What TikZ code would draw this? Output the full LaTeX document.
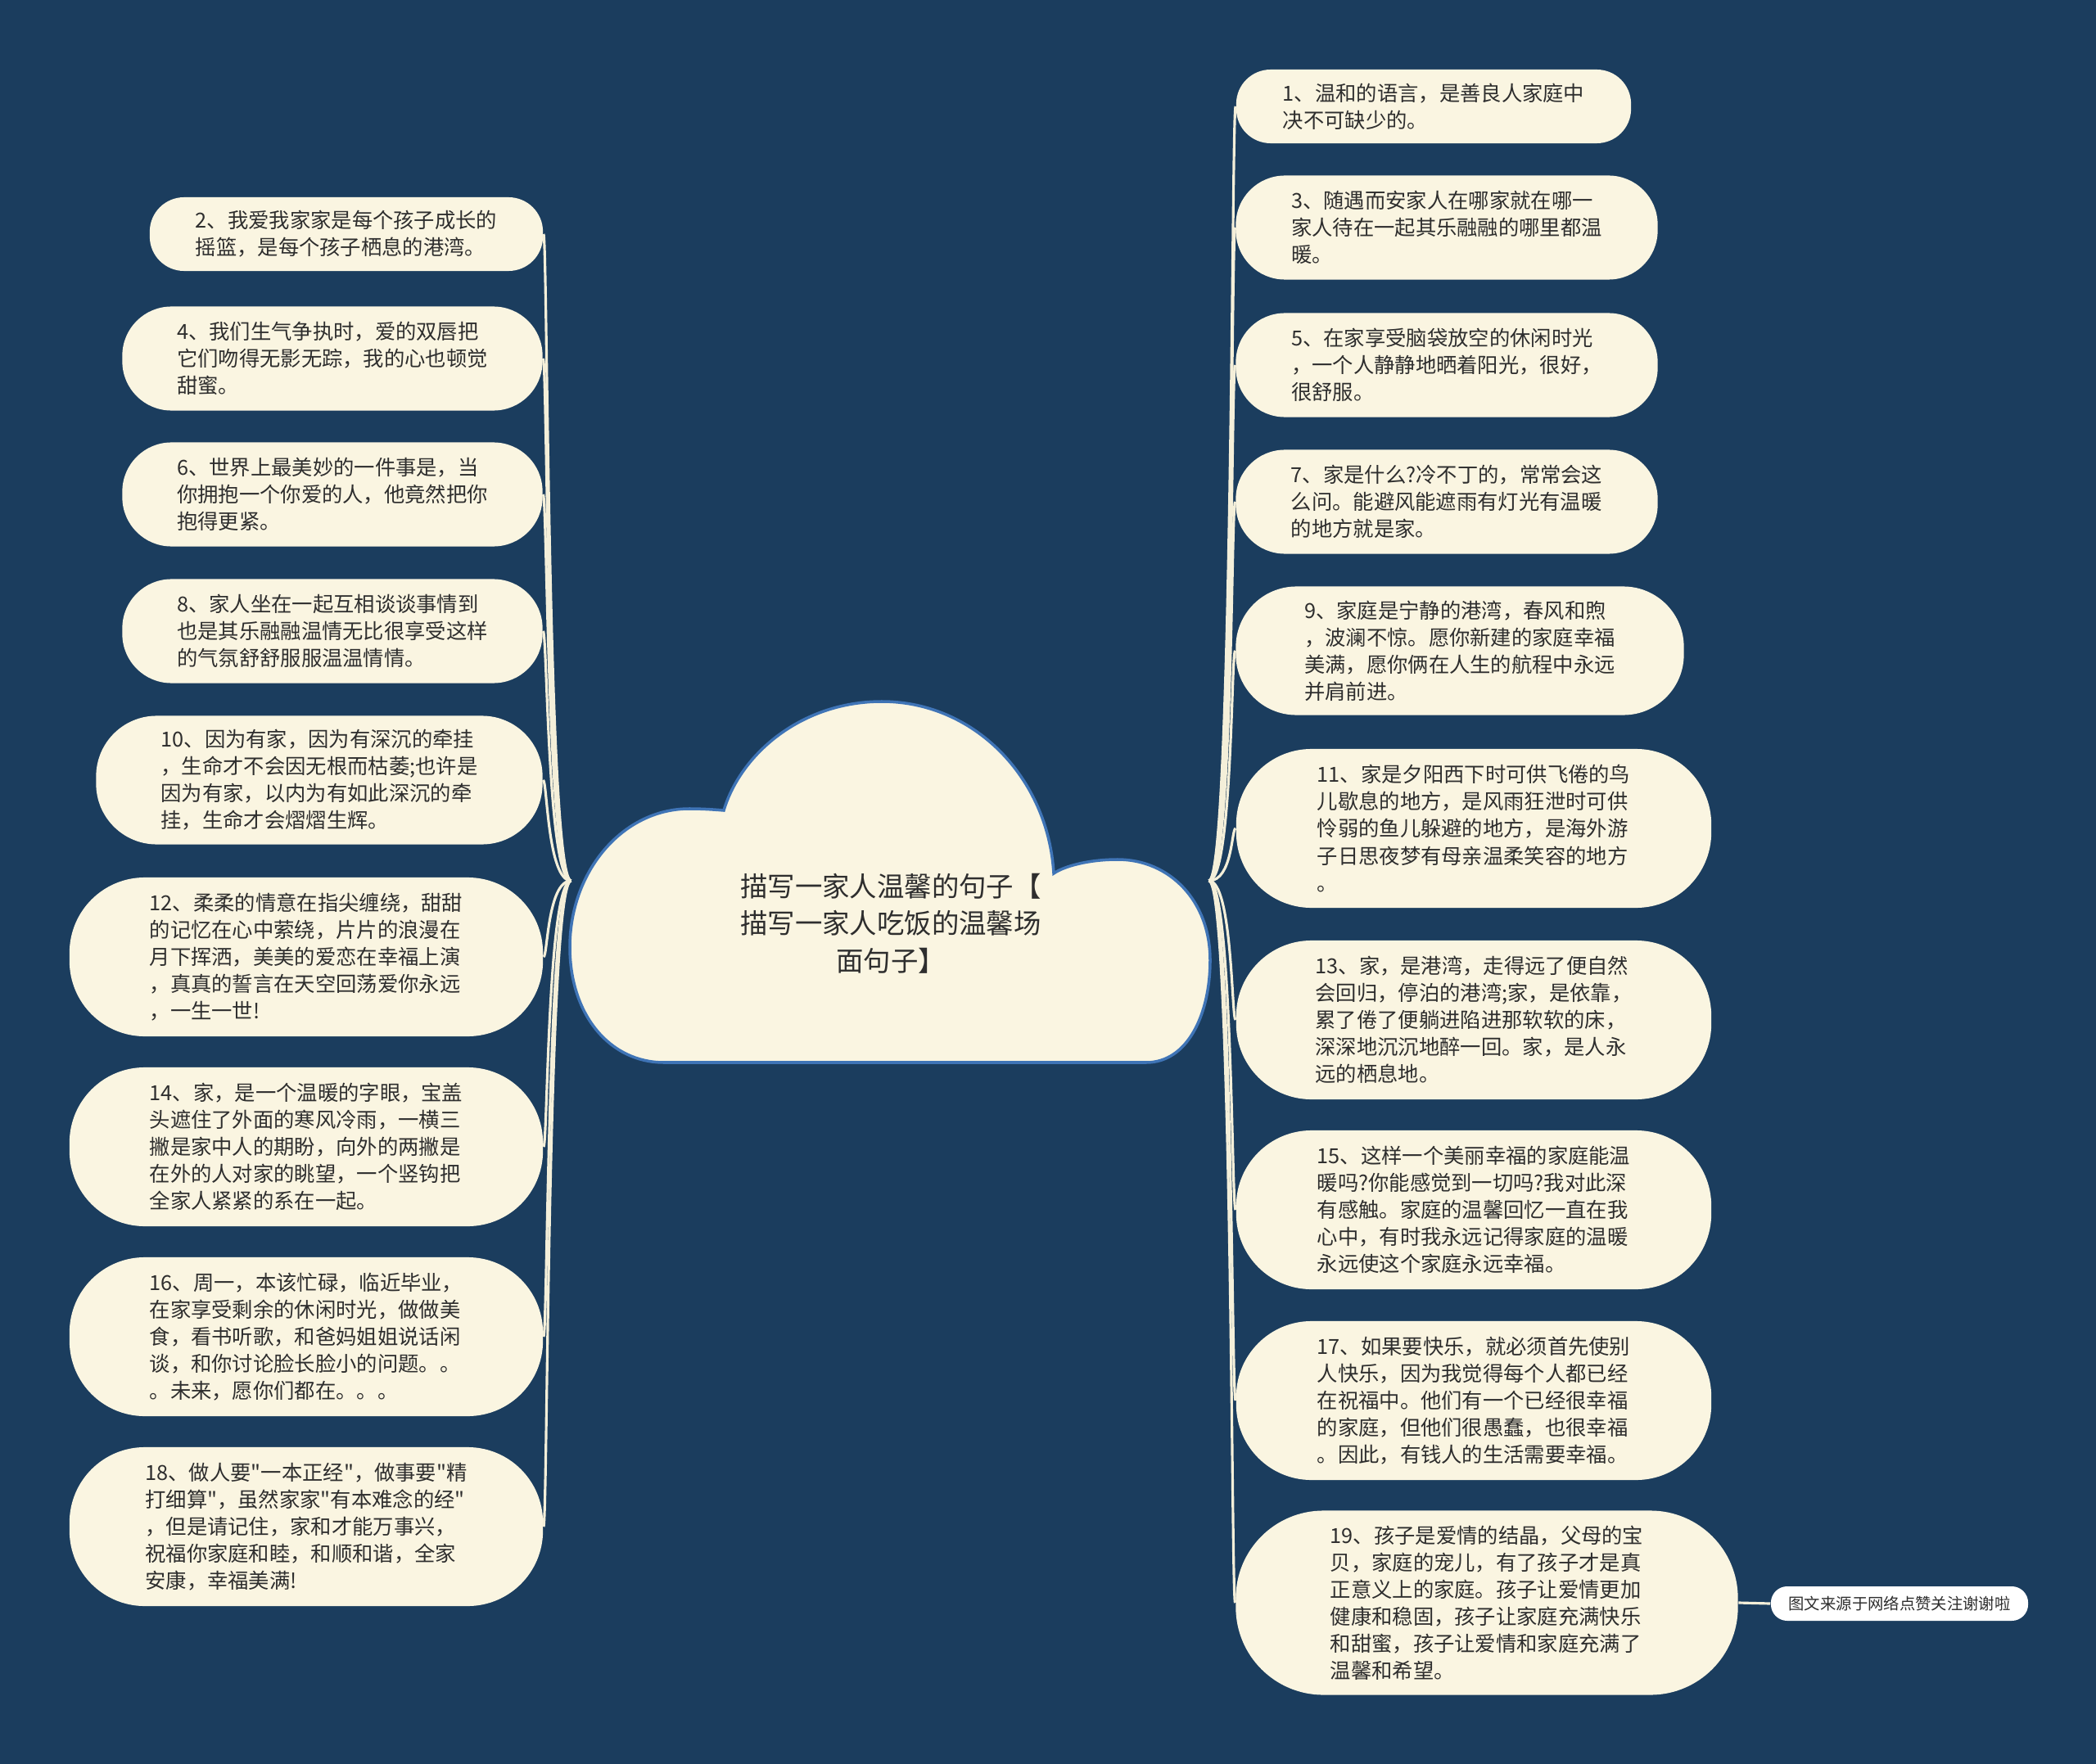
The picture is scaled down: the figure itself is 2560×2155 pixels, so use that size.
\documentclass[tikz,border=0pt]{standalone}
\usepackage{fontspec}
\setmainfont{Noto Sans CJK SC}[Ligatures=TeXOff]
\usepackage{xcolor}
\usepackage{tikz}

\definecolor{bgnavy}{HTML}{1B3D5E}
\definecolor{leafcream}{HTML}{FAF5E1}
\definecolor{linecream}{HTML}{F4EFD9}
\definecolor{cloudblue}{HTML}{3F74B6}
\definecolor{inkgray}{HTML}{2E2E2E}

\newcommand{\leaffont}{\fontsize{7.2pt}{9.4pt}\selectfont}
\newcommand{\titlefont}{\fontsize{9.5pt}{13pt}\selectfont}
\newcommand{\notefont}{\fontsize{5.5pt}{7pt}\selectfont}

\begin{document}
\begin{tikzpicture}[
    x=0.01cm, y=-0.01cm,
    leaf/.style={fill=leafcream, text=inkgray, align=left, font=\leaffont, inner sep=0pt},
    twoline/.style={minimum height=0.90cm, rounded corners=0.42cm},
    threeline/.style={minimum height=1.27cm, rounded corners=0.60cm},
    fourline/.style={minimum height=1.57cm, rounded corners=0.74cm},
    fiveline/.style={minimum height=1.94cm, rounded corners=0.92cm},
    sixline/.style={minimum height=2.25cm, rounded corners=1.07cm},
    link/.style={draw=linecream, line width=0.9pt}
]
    \useasboundingbox (0,0) rectangle (2560,2155);
    \fill[bgnavy] (0,0) rectangle (2560,2155);

    % central cloud
    \draw[fill=leafcream, draw=cloudblue, line width=1pt]
        (811,1298) -- (1400,1298)
        .. controls (1450,1298) and (1478,1240) .. (1478,1173)
        .. controls (1478,1100) and (1428,1050) .. (1365,1050)
        .. controls (1330,1050) and (1300,1058) .. (1287,1067)
        .. controls (1280,950) and (1190,857) .. (1077,857)
        .. controls (980,857) and (905,920) .. (884,990)
        .. controls (872,989) and (858,988) .. (842,988)
        .. controls (760,988) and (696,1065) .. (696,1157)
        .. controls (696,1240) and (745,1298) .. (811,1298)
        -- cycle;
    \node[minimum width=7.77cm, minimum height=4.43cm, inner sep=0pt] (root) at (1087,1076) {};
    \node[font=\titlefont, text=inkgray, align=center] (title) at (1088,1128)
        {描写一家人温馨的句子【\\描写一家人吃饭的温馨场\\面句子】};

    % right branch
    \node[leaf, twoline, minimum width=4.82cm] (r1) at (1751,130)
        {1、温和的语言，是善良人家庭中\\决不可缺少的。};
    \node[leaf, threeline, minimum width=5.15cm] (r3) at (1767,278)
        {3、随遇而安家人在哪家就在哪一\\家人待在一起其乐融融的哪里都温\\暖。};
    \node[leaf, threeline, minimum width=5.15cm] (r5) at (1767,446)
        {5、在家享受脑袋放空的休闲时光\\，一个人静静地晒着阳光，很好，\\很舒服。};
    \node[leaf, threeline, minimum width=5.15cm] (r7) at (1767,613)
        {7、家是什么?冷不丁的，常常会这\\么问。能避风能遮雨有灯光有温暖\\的地方就是家。};
    \node[leaf, fourline, minimum width=5.47cm] (r9) at (1783,795)
        {9、家庭是宁静的港湾，春风和煦\\，波澜不惊。愿你新建的家庭幸福\\美满，愿你俩在人生的航程中永远\\并肩前进。};
    \node[leaf, fiveline, minimum width=5.80cm] (r11) at (1800,1012)
        {11、家是夕阳西下时可供飞倦的鸟\\儿歇息的地方，是风雨狂泄时可供\\怜弱的鱼儿躲避的地方，是海外游\\子日思夜梦有母亲温柔笑容的地方\\。};
    \node[leaf, fiveline, minimum width=5.80cm] (r13) at (1800,1246)
        {13、家，是港湾，走得远了便自然\\会回归，停泊的港湾;家，是依靠，\\累了倦了便躺进陷进那软软的床，\\深深地沉沉地醉一回。家，是人永\\远的栖息地。};
    \node[leaf, fiveline, minimum width=5.80cm] (r15) at (1800,1478)
        {15、这样一个美丽幸福的家庭能温\\暖吗?你能感觉到一切吗?我对此深\\有感触。家庭的温馨回忆一直在我\\心中，有时我永远记得家庭的温暖\\永远使这个家庭永远幸福。};
    \node[leaf, fiveline, minimum width=5.80cm] (r17) at (1800,1711)
        {17、如果要快乐，就必须首先使别\\人快乐，因为我觉得每个人都已经\\在祝福中。他们有一个已经很幸福\\的家庭，但他们很愚蠢，也很幸福\\。因此，有钱人的生活需要幸福。};
    \node[leaf, sixline, minimum width=6.13cm] (r19) at (1816,1958)
        {19、孩子是爱情的结晶，父母的宝\\贝，家庭的宠儿，有了孩子才是真\\正意义上的家庭。孩子让爱情更加\\健康和稳固，孩子让家庭充满快乐\\和甜蜜，孩子让爱情和家庭充满了\\温馨和希望。};
    \node[fill=white, text=inkgray, font=\notefont, inner sep=0pt, minimum width=3.14cm,
        minimum height=0.42cm, rounded corners=0.2cm] (note) at (2320,1959)
        {图文来源于网络点赞关注谢谢啦};

    % left branch
    \node[leaf, twoline, minimum width=4.80cm] (l2) at (423,286)
        {2、我爱我家家是每个孩子成长的\\摇篮，是每个孩子栖息的港湾。};
    \node[leaf, threeline, minimum width=5.13cm] (l4) at (406,438)
        {4、我们生气争执时，爱的双唇把\\它们吻得无影无踪，我的心也顿觉\\甜蜜。};
    \node[leaf, threeline, minimum width=5.13cm] (l6) at (406,604)
        {6、世界上最美妙的一件事是，当\\你拥抱一个你爱的人，他竟然把你\\抱得更紧。};
    \node[leaf, threeline, minimum width=5.13cm] (l8) at (406,771)
        {8、家人坐在一起互相谈谈事情到\\也是其乐融融温情无比很享受这样\\的气氛舒舒服服温温情情。};
    \node[leaf, fourline, minimum width=5.45cm] (l10) at (390,953)
        {10、因为有家，因为有深沉的牵挂\\，生命才不会因无根而枯萎;也许是\\因为有家，以内为有如此深沉的牵\\挂，生命才会熠熠生辉。};
    \node[leaf, fiveline, minimum width=5.78cm] (l12) at (374,1169)
        {12、柔柔的情意在指尖缠绕，甜甜\\的记忆在心中萦绕，片片的浪漫在\\月下挥洒，美美的爱恋在幸福上演\\，真真的誓言在天空回荡爱你永远\\，一生一世!};
    \node[leaf, fiveline, minimum width=5.78cm] (l14) at (374,1401)
        {14、家，是一个温暖的字眼，宝盖\\头遮住了外面的寒风冷雨，一横三\\撇是家中人的期盼，向外的两撇是\\在外的人对家的眺望，一个竖钩把\\全家人紧紧的系在一起。};
    \node[leaf, fiveline, minimum width=5.78cm] (l16) at (374,1633)
        {16、周一，本该忙碌，临近毕业，\\在家享受剩余的休闲时光，做做美\\食，看书听歌，和爸妈姐姐说话闲\\谈，和你讨论脸长脸小的问题。。\\。未来，愿你们都在。。。};
    \node[leaf, fiveline, minimum width=5.78cm] (l18) at (374,1865)
        {18、做人要"一本正经"，做事要"精\\打细算"，虽然家家"有本难念的经"\\，但是请记住，家和才能万事兴，\\祝福你家庭和睦，和顺和谐，全家\\安康，幸福美满!};

    % connectors
    \draw[link] (root.east) .. controls +(29,0) and +(-5,0) .. (r1.west);
    \draw[link] (root.east) .. controls +(29,0) and +(-5,0) .. (r3.west);
    \draw[link] (root.east) .. controls +(29,0) and +(-5,0) .. (r5.west);
    \draw[link] (root.east) .. controls +(29,0) and +(-5,0) .. (r7.west);
    \draw[link] (root.east) .. controls +(29,0) and +(-5,0) .. (r9.west);
    \draw[link] (root.east) .. controls +(29,0) and +(-5,0) .. (r11.west);
    \draw[link] (root.east) .. controls +(29,0) and +(-5,0) .. (r13.west);
    \draw[link] (root.east) .. controls +(29,0) and +(-5,0) .. (r15.west);
    \draw[link] (root.east) .. controls +(29,0) and +(-5,0) .. (r17.west);
    \draw[link] (root.east) .. controls +(29,0) and +(-5,0) .. (r19.west);
    \draw[link] (r19.east) -- (note.west);
    \draw[link] (root.west) .. controls +(-29,0) and +(5,0) .. (l2.east);
    \draw[link] (root.west) .. controls +(-29,0) and +(5,0) .. (l4.east);
    \draw[link] (root.west) .. controls +(-29,0) and +(5,0) .. (l6.east);
    \draw[link] (root.west) .. controls +(-29,0) and +(5,0) .. (l8.east);
    \draw[link] (root.west) .. controls +(-29,0) and +(5,0) .. (l10.east);
    \draw[link] (root.west) .. controls +(-29,0) and +(5,0) .. (l12.east);
    \draw[link] (root.west) .. controls +(-29,0) and +(5,0) .. (l14.east);
    \draw[link] (root.west) .. controls +(-29,0) and +(5,0) .. (l16.east);
    \draw[link] (root.west) .. controls +(-29,0) and +(5,0) .. (l18.east);
\end{tikzpicture}
\end{document}
